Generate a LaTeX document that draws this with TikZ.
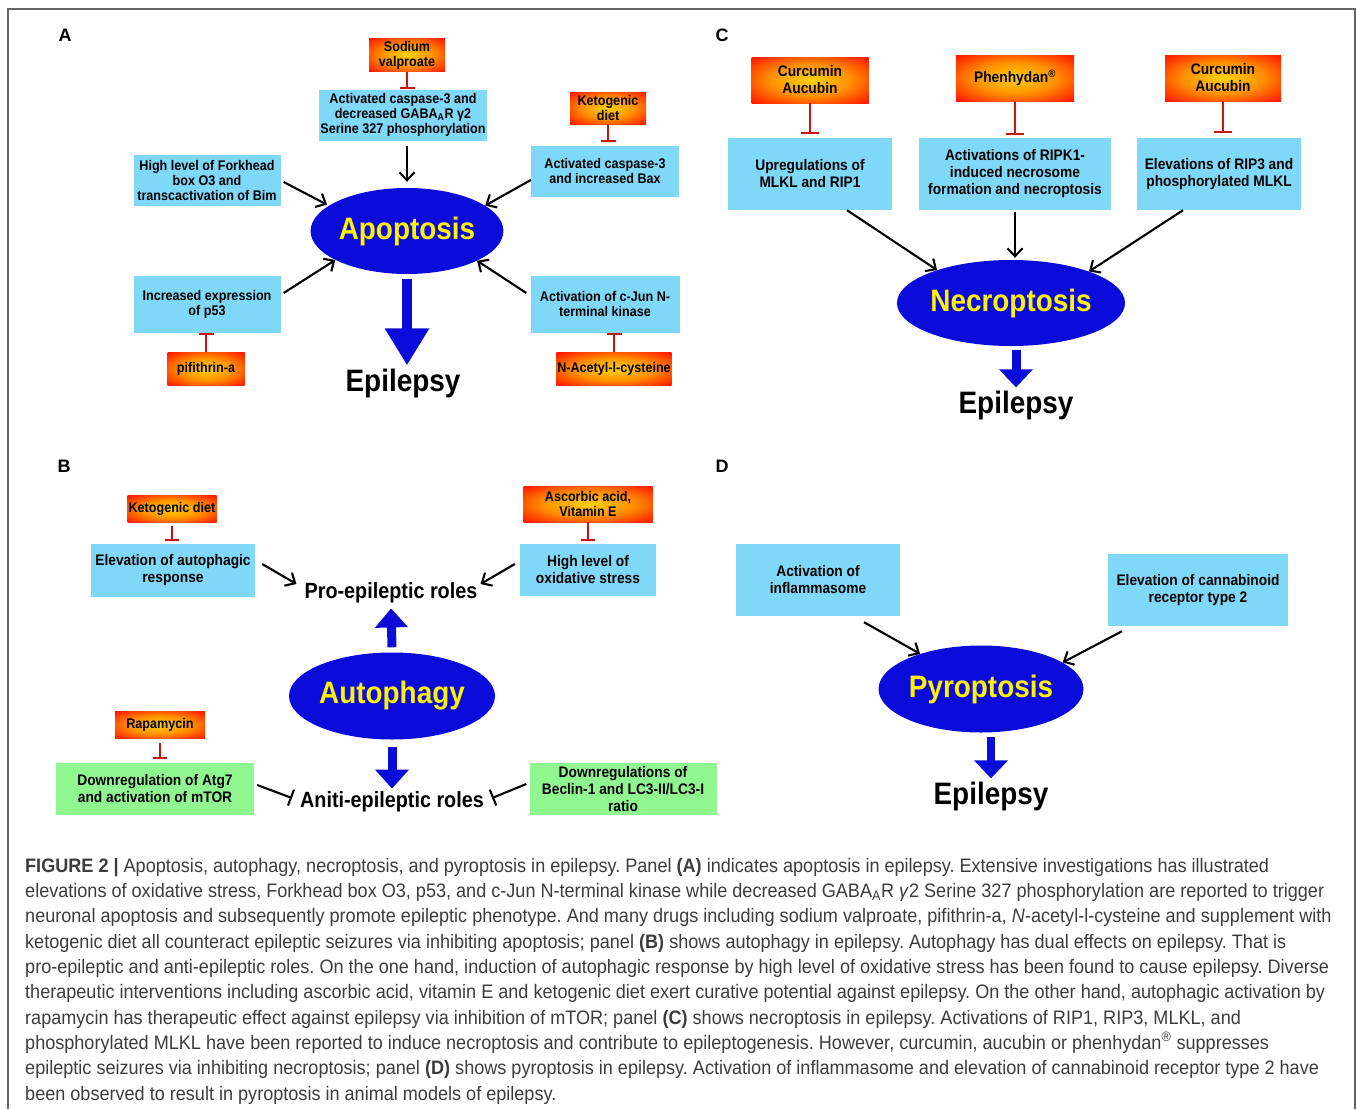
\documentclass[tikz,border=0pt]{standalone}
\usepackage{fontspec}
\setmainfont{Liberation Sans}
\newfontfamily\nfont[FakeStretch=0.9]{Liberation Sans}
\newfontfamily\capfont[FakeStretch=0.927]{Liberation Sans}
\usetikzlibrary{arrows.meta,shapes.geometric}

\definecolor{skyb}{RGB}{128,216,248}
\definecolor{mint}{RGB}{144,246,144}
\definecolor{deepblue}{RGB}{12,12,218}
\definecolor{drugred}{RGB}{255,15,0}
\definecolor{drugorange}{RGB}{255,145,0}
\definecolor{drugyellow}{RGB}{255,210,10}
\definecolor{inhred}{RGB}{200,20,20}
\definecolor{capgray}{RGB}{60,60,60}
\definecolor{framegray}{RGB}{100,100,100}

\pgfdeclareradialshading{drugglow}{\pgfpoint{0bp}{0bp}}{color(0bp)=(drugyellow); color(17bp)=(drugorange); color(36bp)=(drugred); color(50bp)=(drugred)}

\tikzset{
  sizeA/.style={font=\nfont\bfseries\fontsize{14}{15}\selectfont},
  sizeB/.style={font=\nfont\bfseries\fontsize{15.3}{17}\selectfont},
  finding/.style={fill=skyb, align=center, inner sep=1pt},
  downreg/.style={fill=mint, align=center, inner sep=1pt},
  drug/.style={shading=drugglow, align=center, inner sep=1pt},
  process/.style={ellipse, fill=deepblue, text=yellow, inner sep=0pt, font=\nfont\bfseries\fontsize{31}{31}\selectfont},
  outcome/.style={inner sep=0pt, font=\nfont\bfseries\fontsize{31}{31}\selectfont},
  role/.style={inner sep=0pt, font=\nfont\bfseries\fontsize{22}{22}\selectfont},
  panel/.style={font=\bfseries\fontsize{18}{18}\selectfont},
  arr/.style={-{Straight Barb[length=8pt,width=15pt]}, line width=2.1pt},
  inh/.style={-{Bar[width=#1]}, inhred, line width=2.1pt},
  inh/.default=15pt,
  blockinh/.style={-{Bar[width=17pt]}, line width=2.1pt},
  fatA/.style={-{Triangle[width=42pt,length=37pt]}, deepblue, line width=10pt},
  fat/.style={-{Triangle[width=33pt,length=18pt]}, deepblue, line width=9pt},
}

\begin{document}
\begin{tikzpicture}[x=1pt,y=-1pt]
\useasboundingbox (0,0) rectangle (1357,1109);
\draw[framegray, line width=1.5pt] (8,1109) -- (8,9) -- (1355,9) -- (1355,1109);

% A: apoptosis
\node[panel] (labA) at (65,35) {A};
\node[drug, sizeA, minimum width=76pt, minimum height=33pt] (valp) at (407,55) {Sodium\\valproate};
\node[finding, sizeA, minimum width=168pt, minimum height=51pt] (casp) at (403,115) {Activated caspase-3 and\\decreased GABA\textsubscript{A}R γ2\\Serine 327 phosphorylation};
\node[finding, sizeA, minimum width=147pt, minimum height=51pt] (foxo) at (207,180) {High level of Forkhead\\box O3 and\\transcactivation of Bim};
\node[drug, sizeA, minimum width=76pt, minimum height=32pt] (ketoA) at (608,108) {Ketogenic\\diet};
\node[finding, sizeA, minimum width=148pt, minimum height=51pt] (bax) at (605,171) {Activated caspase-3\\and increased Bax};
\node[process, minimum width=183pt, minimum height=86pt] (apop) at (407,231) {Apoptosis};
\node[finding, sizeA, minimum width=147pt, minimum height=57pt] (p53) at (207,304) {Increased expression\\of p53};
\node[drug, sizeA, minimum width=77pt, minimum height=33pt] (pif) at (206,369) {pifithrin-a};
\node[finding, sizeA, minimum width=149pt, minimum height=57pt] (jnk) at (605,304) {Activation of c-Jun N-\\terminal kinase};
\node[drug, sizeA, minimum width=112pt, minimum height=33pt] (nac) at (614,369) {N-Acetyl-l-cysteine};
\node[outcome] (epiA) at (403,383) {Epilepsy};

\draw[inh] (valp.south) -- (valp.south |- casp.north);
\draw[inh, shorten >=3pt] (ketoA.south) -- (ketoA.south |- bax.north);
\draw[inh] (pif.north) -- (pif.north |- p53.south);
\draw[inh] (nac.north) -- (nac.north |- jnk.south);
\draw[arr, shorten >=6pt] ([yshift=-5pt]casp.south -| apop.north) -- (apop.north);
\draw[arr, shorten >=2pt] ([xshift=3pt,yshift=-2pt]foxo.east) -- (apop.162);
\draw[arr] ([yshift=-9pt]bax.west) -- (apop.18);
\draw[arr] ([xshift=3pt,yshift=11pt]p53.east) -- (apop.202);
\draw[arr] ([xshift=-4pt,yshift=11pt]jnk.west) -- (apop.337);
\draw[fatA] ([yshift=-5pt]apop.south) -- ([yshift=3pt]epiA.north -| apop.south);

% C: necroptosis
\node[panel] (labC) at (722,35) {C};
\node[drug, sizeB, minimum width=117pt, minimum height=46pt] (curA) at (810,80) {Curcumin\\Aucubin};
\node[drug, sizeB, minimum width=118pt, minimum height=46pt] (phen) at (1015,78) {Phenhydan\textsuperscript{\textregistered}};
\node[drug, sizeB, minimum width=116pt, minimum height=46pt] (curB) at (1223,78) {Curcumin\\Aucubin};
\node[finding, sizeB, minimum width=164pt, minimum height=72pt] (upr) at (810,174) {Upregulations of\\MLKL and RIP1};
\node[finding, sizeB, minimum width=192pt, minimum height=72pt] (ripk) at (1015,174) {Activations of RIPK1-\\induced necrosome\\formation and necroptosis};
\node[finding, sizeB, minimum width=164pt, minimum height=72pt] (rip3) at (1219,174) {Elevations of RIP3 and\\phosphorylated MLKL};
\node[process, minimum width=205pt, minimum height=86pt] (necro) at (1011,303) {Necroptosis};
\node[outcome] (epiC) at (1016,405) {Epilepsy};

\draw[inh=18pt, shorten >=4pt] (curA.south) -- (curA.south |- upr.north);
\draw[inh=18pt, shorten >=3pt] (phen.south) -- (phen.south |- ripk.north);
\draw[inh=18pt, shorten >=5pt] (curB.south) -- (curB.south |- rip3.north);
\draw[arr] ([xshift=37pt]upr.south) -- (necro.156);
\draw[arr, shorten >=2pt] ([yshift=-2pt]ripk.south) -- (ripk.south |- necro.north);
\draw[arr] ([xshift=-36pt]rip3.south) -- (necro.22);
\draw[fat] ([yshift=-4pt]necro.south -| epiC.north) -- ([yshift=3pt]epiC.north);

% B: autophagy
\node[panel] (labB) at (64,466) {B};
\node[drug, sizeA, minimum width=89pt, minimum height=27pt] (ketoB) at (172,509) {Ketogenic diet};
\node[finding, sizeB, minimum width=164pt, minimum height=53pt] (auto) at (173,570) {Elevation of autophagic\\response};
\node[role] (pro) at (391,593) {Pro-epileptic roles};
\node[drug, sizeA, minimum width=129pt, minimum height=36pt] (asc) at (588,504) {Ascorbic acid,\\Vitamin E};
\node[finding, sizeB, minimum width=136pt, minimum height=52pt] (oxs) at (588,570) {High level of\\oxidative stress};
\node[process, minimum width=204pt, minimum height=87pt] (autoph) at (392,696) {Autophagy};
\node[role] (anti) at (392,802) {Aniti-epileptic roles};
\node[drug, sizeA, minimum width=90pt, minimum height=27pt] (rapa) at (160,725) {Rapamycin};
\node[downreg, sizeB, minimum width=198pt, minimum height=52pt] (atg) at (155,789) {Downregulation of Atg7\\and activation of mTOR};
\node[downreg, sizeB, minimum width=187pt, minimum height=52pt] (becn) at (623,789) {Downregulations of\\Beclin-1 and LC3-II/LC3-I\\ratio};

\draw[inh=14pt, shorten <=3pt, shorten >=2pt] (ketoB.south) -- (ketoB.south |- auto.north);
\draw[inh=14pt, shorten >=3pt] (asc.south) -- (asc.south |- oxs.north);
\draw[inh=14pt, shorten <=4pt, shorten >=4pt] (rapa.south) -- (rapa.south |- atg.north);
\draw[arr] ([xshift=7pt,yshift=6pt]auto.east) -- ([xshift=-8pt,yshift=9pt]pro.west);
\draw[arr] ([xshift=-5pt,yshift=6pt]oxs.west) -- ([xshift=3pt,yshift=9pt]pro.east);
\draw[fat, -{Triangle[width=32pt,length=19pt]}] ([yshift=5pt]autoph.north) -- ([yshift=-5pt]pro.south);
\draw[fat, -{Triangle[width=33pt,length=19pt]}] ([yshift=-7pt]autoph.south) -- ([yshift=3pt]anti.north);
\draw[blockinh] ([xshift=3pt,yshift=4pt]atg.east) -- ([xshift=-8pt,yshift=4pt]anti.west);
\draw[blockinh] ([xshift=-3pt,yshift=5pt]becn.west) -- ([xshift=8pt,yshift=4pt]anti.east);

% D: pyroptosis
\node[panel] (labD) at (722,466) {D};
\node[finding, sizeB, minimum width=164pt, minimum height=72pt] (infl) at (818,580) {Activation of\\inflammasome};
\node[finding, sizeB, minimum width=180pt, minimum height=72pt] (cb2) at (1198,590) {Elevation of cannabinoid\\receptor type 2};
\node[process, minimum width=205pt, minimum height=87pt] (pyro) at (981,689) {Pyroptosis};
\node[outcome] (epiD) at (991,796) {Epilepsy};

\draw[arr] ([xshift=46pt,yshift=-6pt]infl.south) -- (pyro.150);
\draw[arr] ([xshift=-76pt,yshift=-5pt]cb2.south) -- (pyro.18);
\draw[fat, line width=8pt] ([yshift=-4pt]pyro.south -| epiD.north) -- ([yshift=3pt]epiD.north);

% caption
\node[anchor=north west, align=left, inner sep=0pt, text=capgray, font=\capfont\frenchspacing\fontsize{19.5}{25.3}\selectfont] (caption) at (25,858) {%
\textbf{FIGURE 2 |} Apoptosis, autophagy, necroptosis, and pyroptosis in epilepsy. Panel \textbf{(A)} indicates apoptosis in epilepsy. Extensive investigations has illustrated\\
elevations of oxidative stress, Forkhead box O3, p53, and c-Jun N-terminal kinase while decreased GABA\textsubscript{A}R \textit{γ}2 Serine 327 phosphorylation are reported to trigger\\
neuronal apoptosis and subsequently promote epileptic phenotype. And many drugs including sodium valproate, pifithrin-a, \textit{N}-acetyl-l-cysteine and supplement with\\
ketogenic diet all counteract epileptic seizures via inhibiting apoptosis; panel \textbf{(B)} shows autophagy in epilepsy. Autophagy has dual effects on epilepsy. That is\\
pro-epileptic and anti-epileptic roles. On the one hand, induction of autophagic response by high level of oxidative stress has been found to cause epilepsy. Diverse\\
therapeutic interventions including ascorbic acid, vitamin E and ketogenic diet exert curative potential against epilepsy. On the other hand, autophagic activation by\\
rapamycin has therapeutic effect against epilepsy via inhibition of mTOR; panel \textbf{(C)} shows necroptosis in epilepsy. Activations of RIP1, RIP3, MLKL, and\\
phosphorylated MLKL have been reported to induce necroptosis and contribute to epileptogenesis. However, curcumin, aucubin or phenhydan\textsuperscript{\textregistered} suppresses\\
epileptic seizures via inhibiting necroptosis; panel \textbf{(D)} shows pyroptosis in epilepsy. Activation of inflammasome and elevation of cannabinoid receptor type 2 have\\
been observed to result in pyroptosis in animal models of epilepsy.};
\end{tikzpicture}
\end{document}
